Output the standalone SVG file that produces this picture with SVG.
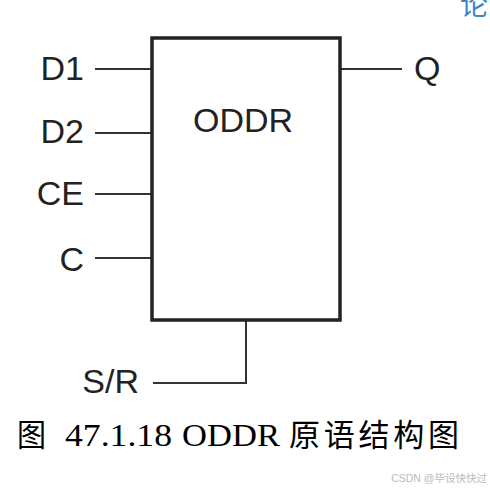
<svg xmlns="http://www.w3.org/2000/svg" width="490" height="490" viewBox="0 0 490 490">
<style>
.lbl{font-family:"Liberation Sans",Arial,sans-serif;font-size:34px;fill:#222}
.wire{stroke:#333;stroke-width:2;fill:none}
.cap{font-family:"Liberation Serif","Noto Sans CJK SC",serif;font-size:31px;fill:#000}
</style>
<rect width="490" height="490" fill="#fff"/>
<text x="460" y="15" font-family="Noto Sans CJK SC,sans-serif" font-size="28" fill="#3c86c8">论</text>
<g id="connectors">
<path class="wire" d="M95 69H152M95 133H152M95 194H152M95 258H152M340 69H402M246 320V383H153"/>
</g>
<g id="oddr">
<rect x="152" y="38" width="188" height="282" fill="#fff" stroke="#222" stroke-width="3.5"/>
<text class="lbl" x="243" y="132" text-anchor="middle" font-size="32">ODDR</text>
</g>
<g id="d1"><text class="lbl" x="84" y="80" text-anchor="end">D1</text></g>
<g id="d2"><text class="lbl" x="84" y="143" text-anchor="end">D2</text></g>
<g id="ce"><text class="lbl" x="84" y="205" text-anchor="end">CE</text></g>
<g id="c"><text class="lbl" x="84" y="271" text-anchor="end">C</text></g>
<g id="q"><text class="lbl" x="414" y="80">Q</text></g>
<g id="sr"><text class="lbl" x="139" y="393" text-anchor="end">S/R</text></g>
<g id="caption">
<text class="cap" x="17" y="446" textLength="29" lengthAdjust="spacingAndGlyphs">图</text>
<text class="cap" x="65" y="446" textLength="107" lengthAdjust="spacingAndGlyphs">47.1.18</text>
<text class="cap" x="182" y="446" textLength="98" lengthAdjust="spacingAndGlyphs">ODDR</text>
<text class="cap" x="289" y="446" textLength="170" lengthAdjust="spacing">原语结构图</text>
</g>
<text x="487" y="482" text-anchor="end" font-family="Liberation Sans,Noto Sans CJK SC,sans-serif" font-size="10.5" fill="#bbb">CSDN @毕设快快过</text>
</svg>
